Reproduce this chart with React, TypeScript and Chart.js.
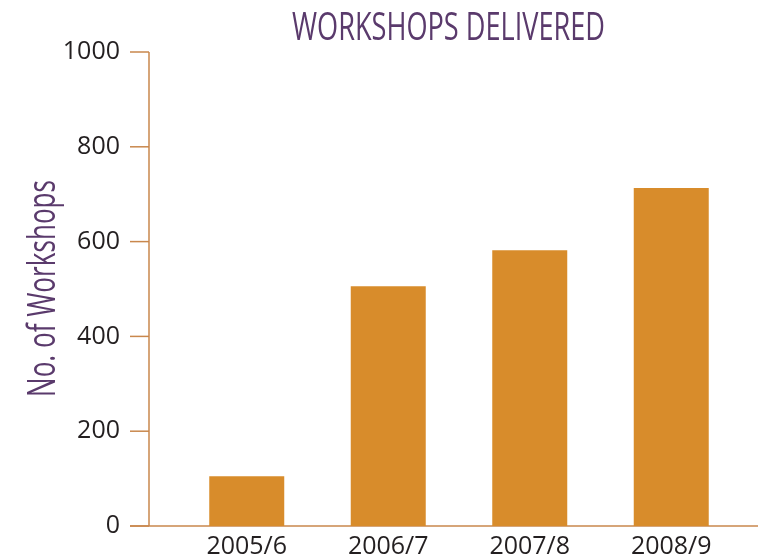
import React, { useEffect, useRef } from "react";
import { Chart, registerables } from "chart.js";
Chart.register(...registerables);

const categories = ["2005/6", "2006/7", "2007/8", "2008/9"];
const workshops = [105, 506, 582, 713];
const yTicks = [0, 200, 400, 600, 800, 1000];
const chartTitle = "WORKSHOPS DELIVERED";
const yAxisTitle = "No. of Workshops";

const PURPLE = "#5a3a6c";
const BAR = "#d88c2b";
const AXIS = "#c9874c";
const TEXT = "#231f20";
const FONT = "'Open Sans', 'Liberation Sans', sans-serif";

export default function App() {
  const ref = useRef<HTMLCanvasElement>(null);
  useEffect(() => {
    document.body.style.margin = "0";
    const decor = {
      id: "decor",
      beforeDatasetsDraw(chart: any) {
        const { ctx, chartArea } = chart;
        const y = chart.scales.y;
        const axisX = chartArea.left - 27;
        ctx.save();
        ctx.strokeStyle = AXIS;
        ctx.lineWidth = 1.5;
        ctx.beginPath();
        ctx.moveTo(axisX, y.getPixelForValue(yTicks[yTicks.length - 1]));
        ctx.lineTo(axisX, y.getPixelForValue(0));
        ctx.stroke();
        for (const t of yTicks) {
          const py = y.getPixelForValue(t);
          ctx.beginPath();
          ctx.moveTo(axisX - 19, py);
          ctx.lineTo(axisX, py);
          ctx.stroke();
        }
        const py0 = y.getPixelForValue(0);
        ctx.beginPath();
        ctx.moveTo(axisX - 19, py0);
        ctx.lineTo(chart.width, py0);
        ctx.stroke();
        ctx.restore();
      },
      afterDraw(chart: any) {
        const { ctx } = chart;
        ctx.save();
        ctx.fillStyle = PURPLE;
        ctx.font = `38px ${FONT}`;
        ctx.textAlign = "center";
        ctx.textBaseline = "alphabetic";
        ctx.fillText(chartTitle, 448.5, 40, 313);
        ctx.translate(55, 288.5);
        ctx.rotate(-Math.PI / 2);
        ctx.fillText(yAxisTitle, 0, 0, 217);
        ctx.restore();
      },
    };
    const chart = new Chart(ref.current!, {
      type: "bar",
      data: {
        labels: categories,
        datasets: [
          {
            data: workshops,
            backgroundColor: BAR,
            borderWidth: 0,
            categoryPercentage: 1,
            barPercentage: 0.53,
          },
        ],
      },
      options: {
        responsive: false,
        animation: false,
        devicePixelRatio: 1,
        layout: { padding: { left: 0, top: 52, right: 16, bottom: 0 } },
        plugins: { legend: { display: false }, tooltip: { enabled: false }, title: { display: false } },
        scales: {
          x: {
            grid: { display: false, drawTicks: false },
            border: { display: false },
            ticks: { color: TEXT, font: { family: FONT, size: 25 }, padding: 6 },
            afterFit: (s: any) => {
              s.height = 32;
            },
          },
          y: {
            min: 0,
            max: 1000,
            grid: { display: false, drawTicks: true, tickLength: 56 },
            border: { display: false },
            ticks: {
              stepSize: 200,
              color: TEXT,
              font: { family: FONT, size: 25 },
              padding: 0,
              callback: (v: any) => String(v),
            },
            afterFit: (s: any) => {
              s.width = 176;
            },
          },
        },
      },
      plugins: [decor],
    });
    return () => chart.destroy();
  }, []);
  return <canvas ref={ref} width={758} height={558} style={{ display: "block" }} />;
}
